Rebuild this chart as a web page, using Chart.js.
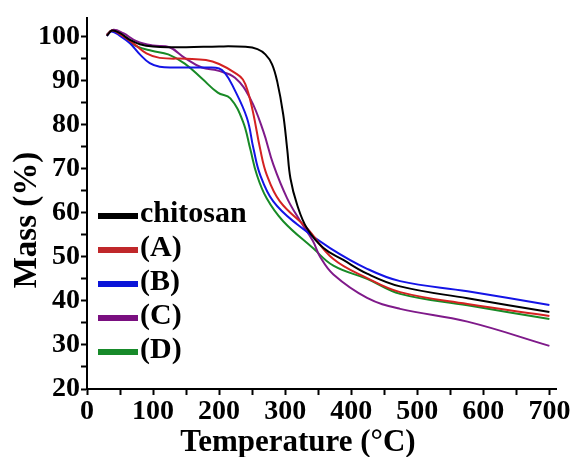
<!DOCTYPE html>
<html>
<head>
<meta charset="utf-8">
<script src="https://cdn.jsdelivr.net/npm/chart.js@4/dist/chart.umd.min.js"></script>
<style>
  html, body { margin: 0; padding: 0; background: #fff; }
  canvas { display: block; }
</style>
</head>
<body>
<canvas id="tga" width="574" height="457"></canvas>
<script>
// TGA curves, temperature (°C) vs remaining mass (%)
const seriesLabels = ['chitosan', '(A)', '(B)', '(C)', '(D)'];
const seriesColors = ['#000000', '#d42222', '#1414e6', '#7f1a8a', '#188a26'];
const legendColors = ['#000000', '#c0282a', '#0a14d8', '#7a0f80', '#178a2a'];

const chitosanTemp = [30, 38, 50, 65, 80, 100, 150, 200, 240, 258, 270, 280, 288, 297, 303, 308, 318, 333, 358, 388, 424, 474, 576, 700];
const chitosanMass = [100.2, 101.4, 100.8, 99.3, 98.3, 97.8, 97.6, 97.8, 97.7, 97.2, 96, 93.8, 89.8, 82.4, 74.6, 67.8, 61.9, 56.5, 52, 49.3, 46.2, 43.3, 40.6, 37.5];

const sampleATemp = [30, 38, 50, 70, 90, 110, 150, 180, 200, 224, 236, 244, 252, 262, 272, 292, 333, 373, 424, 474, 576, 700];
const sampleAMass = [100.3, 101.4, 100.6, 98.5, 96.2, 95.2, 95, 94.7, 93.8, 91.8, 90.3, 87.3, 82.4, 74.6, 68.7, 62.6, 56.5, 49.5, 45.2, 42, 39.3, 36.6];

const sampleBTemp = [30, 37, 50, 65, 80, 95, 110, 130, 180, 200, 210, 220, 242, 252, 262, 282, 318, 368, 424, 474, 576, 700];
const sampleBMass = [100.2, 101.2, 100.2, 98.5, 96, 94, 93.2, 93, 93, 92.8, 91.5, 89, 81.6, 74.6, 68.7, 62.6, 57.4, 52, 47.3, 44.5, 42.2, 39.1];

const sampleCTemp = [30, 40, 55, 75, 100, 125, 148, 174, 198, 224, 247, 267, 282, 303, 323, 342, 353, 373, 424, 474, 576, 700];
const sampleCMass = [100.5, 101.6, 100.8, 99, 98, 97.6, 95.2, 93, 92.3, 90.7, 86, 78.5, 71, 63.3, 58.1, 53.6, 50, 46, 40.7, 38.2, 35.3, 29.8];

const sampleDTemp = [30, 38, 50, 73, 98, 123, 148, 174, 198, 217, 236, 247, 257, 272, 297, 342, 373, 424, 474, 576, 700];
const sampleDMass = [100.4, 101.4, 100.5, 98, 96.8, 96, 93.9, 90.5, 87.3, 86, 80.8, 74.6, 68.7, 63.3, 58.1, 52, 48, 45, 41.6, 39, 35.9];

const tempTicks = [0, 100, 200, 300, 400, 500, 600, 700];
const massTicks = [20, 30, 40, 50, 60, 70, 80, 90, 100];

const xTitle = 'Temperature (°C)';
const yTitle = 'Mass (%)';

const FONT = '"Liberation Serif", "Times New Roman", serif';

function toPoints(temps, masses) {
  return temps.map((t, i) => ({ x: t, y: masses[i] }));
}

const seriesPoints = [
  toPoints(chitosanTemp, chitosanMass),
  toPoints(sampleATemp, sampleAMass),
  toPoints(sampleBTemp, sampleBMass),
  toPoints(sampleCTemp, sampleCMass),
  toPoints(sampleDTemp, sampleDMass)
];

function keepMultiples(step) {
  return (scale) => {
    scale.ticks = scale.ticks.filter((tick) => Math.abs(tick.value - Math.round(tick.value / step) * step) < 1e-6);
  };
}

// legend swatches and axis captions drawn straight onto the canvas
const captionsPlugin = {
  id: 'captions',
  afterDraw(chart) {
    const { ctx } = chart;
    ctx.save();
    ctx.fillStyle = '#000';

    ctx.font = `bold 31px ${FONT}`;
    ctx.textAlign = 'center';
    ctx.textBaseline = 'alphabetic';
    ctx.fillText(xTitle, 298, 451);

    ctx.translate(36, 220);
    ctx.rotate(-Math.PI / 2);
    ctx.font = `bold 33px ${FONT}`;
    ctx.fillText(yTitle, 0, 0);
    ctx.restore();

    ctx.save();
    ctx.font = `bold 30px ${FONT}`;
    ctx.textAlign = 'left';
    ctx.textBaseline = 'middle';
    chart.data.datasets.forEach((dataset, i) => {
      const rowY = 216 + i * 34;
      ctx.fillStyle = legendColors[i];
      ctx.fillRect(98, rowY - 3, 40, 6);
      ctx.fillStyle = '#000';
      ctx.fillText(dataset.label, 140, rowY - 2);
    });
    ctx.restore();
  }
};

new Chart(document.getElementById('tga'), {
  type: 'line',
  data: {
    datasets: seriesPoints.map((points, i) => ({
      label: seriesLabels[i],
      data: points,
      borderColor: seriesColors[i],
      backgroundColor: seriesColors[i],
      borderWidth: 2,
      pointRadius: 0,
      fill: false,
      tension: 0.4
    }))
  },
  options: {
    responsive: false,
    animation: false,
    devicePixelRatio: 1,
    parsing: false,
    layout: { padding: { left: 0, top: 17, right: 18, bottom: 0 } },
    plugins: {
      legend: { display: false },
      tooltip: { enabled: false }
    },
    scales: {
      x: {
        type: 'linear',
        min: 0,
        max: 710,
        afterBuildTicks: keepMultiples(50),
        afterFit: (scale) => { scale.height = 68; },
        border: { color: '#000', width: 2 },
        grid: { drawOnChartArea: false, tickLength: 6, tickColor: '#000', tickWidth: 2 },
        ticks: {
          stepSize: 50,
          includeBounds: false,
          autoSkip: false,
          maxRotation: 0,
          padding: 0,
          color: '#000',
          font: { family: FONT, size: 28, weight: 'bold' },
          callback: (value) => (tempTicks.includes(value) ? String(value) : '')
        }
      },
      y: {
        type: 'linear',
        min: 20,
        max: 104.3,
        afterBuildTicks: keepMultiples(5),
        afterFit: (scale) => { scale.width = 87; },
        border: { color: '#000', width: 2 },
        grid: { drawOnChartArea: false, tickLength: 6, tickColor: '#000', tickWidth: 2 },
        ticks: {
          stepSize: 5,
          includeBounds: false,
          autoSkip: false,
          padding: 1,
          color: '#000',
          font: { family: FONT, size: 28, weight: 'bold' },
          callback: (value) => (massTicks.includes(value) ? String(value) : '')
        }
      }
    }
  },
  plugins: [captionsPlugin]
});
</script>
</body>
</html>
